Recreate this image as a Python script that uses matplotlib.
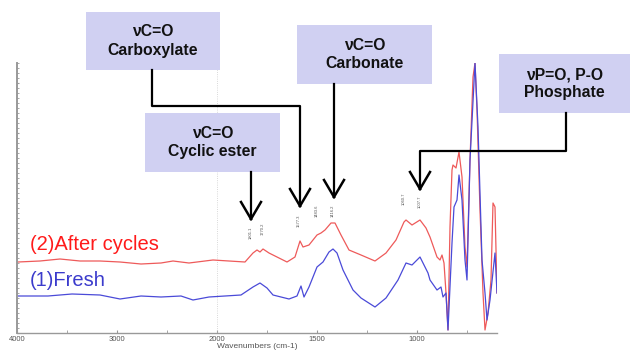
#!/usr/bin/env python3

import numpy as np
import matplotlib
matplotlib.use('Agg')
import matplotlib.pyplot as plt
from matplotlib.patches import Rectangle
from matplotlib.lines import Line2D
from matplotlib.ticker import FixedLocator, MultipleLocator

plt.rcParams['font.family'] = ['Liberation Sans', 'DejaVu Sans']

W, H = 630, 351

# spectra (wavenumber cm-1, arbitrary absorbance)
red_wn = [3990, 3770, 3570, 3370, 3170, 2970, 2760, 2560, 2440, 2280, 2040, 1940,
          1860, 1820, 1800, 1785, 1770, 1740, 1700, 1650, 1610, 1585, 1570, 1540,
          1500, 1480, 1460, 1430, 1410, 1380, 1340, 1280, 1210, 1155, 1105, 1065,
          1055, 1025, 985, 955, 935, 900, 885, 875, 865, 855, 845, 835, 825, 820,
          805, 790, 775, 760, 750, 735, 720, 710, 700, 685, 670, 660, 645, 630,
          620, 610, 600]
red_ab = [.71, .72, .74, .72, .72, .71, .69, .70, .72, .70, .73, .72,
          .71, .80, .83, .81, .84, .80, .76, .71, .76, .92, .86, .88,
          .98, 1.00, 1.03, 1.10, 1.10, .98, .83, .78, .72, .80, .93, 1.11,
          1.13, 1.08, 1.13, 1.05, .96, .76, .73, .78, .70, .40, .03, 1.06, 1.63, 1.68,
          1.65, 1.81, 1.56, .86, .66, 1.73, 2.56, 2.70, 2.23, 1.23, .40, .03, .20, .53,
          1.30, 1.26, .40]

blue_wn = [3990, 3690, 3450, 3170, 2970, 2760, 2560, 2360, 2240, 2080, 1960, 1880,
           1820, 1785, 1750, 1720, 1680, 1640, 1600, 1580, 1565, 1540, 1500, 1470,
           1440, 1420, 1400, 1370, 1320, 1280, 1210, 1155, 1095, 1055, 1025, 985,
           945, 935, 900, 880, 870, 855, 845, 825, 815, 800, 790, 775, 760, 750,
           735, 710, 695, 675, 660, 650, 635, 610, 600]
blue_ab = [.37, .37, .39, .38, .34, .37, .36, .37, .33, .36, .37, .38,
           .46, .50, .45, .38, .36, .34, .37, .47, .36, .46, .66, .71,
           .81, .84, .80, .63, .43, .35, .26, .35, .53, .70, .68, .76,
           .60, .53, .43, .46, .36, .40, .03, .90, 1.26, 1.33, 1.58, 1.33, .73, .53,
           1.73, 2.70, 2.06, .73, .40, .13, .33, .80, .40]

x_ticks = [4000, 3000, 2000, 1500, 1000]

# peak picks: label, pixel x, pixel y of label top
peak_labels = ['1801.1', '1770.2', '1577.3', '1483.6', '1416.2', '1060.7', '1007.7']
peak_px = [251, 263, 299, 317, 333, 404, 420]
peak_top = [227, 223, 215, 205, 205, 193, 196]

boxes = [
    ('\u03bdC=O\nCarboxylate', 86, 12, 134, 58),
    ('\u03bdC=O\nCarbonate', 297, 25, 135, 59),
    ('\u03bdP=O, P-O\nPhosphate', 499, 54, 131, 59),
    ('\u03bdC=O\nCyclic ester', 145, 113, 135, 59),
]
# connector paths in pixels, last point is the arrow tip
paths = [
    [(152, 70), (152, 106), (300, 106), (300, 206)],
    [(334, 84), (334, 197)],
    [(566, 113), (566, 151), (420, 151), (420, 189)],
    [(251, 172), (251, 219)],
]


def px(x, y):
    return x / W, 1 - y / H


def fwd(x):
    x = np.asarray(x, dtype=float)
    return np.where(x >= 2000, x / 2 + 1000, x)


def inv(y):
    y = np.asarray(y, dtype=float)
    return np.where(y >= 2000, (y - 1000) * 2, y)


fig = plt.figure(figsize=(W / 100, H / 100), dpi=100)
ax = fig.add_axes([17 / W, 18 / H, (497 - 17) / W, (333 - 63) / H])
ax.set_xscale('function', functions=(fwd, inv))
ax.set_xlim(4000, 600)
ax.set_ylim(0, 2.70)

ax.axvline(2000, color='#cccccc', lw=0.6, ls=':')
ax.plot(red_wn, red_ab, color='#ee5a5a', lw=0.9)
ax.plot(blue_wn, blue_ab, color='#4a4ad8', lw=0.9)

for s in ['top', 'right']:
    ax.spines[s].set_visible(False)
for s in ['left', 'bottom']:
    ax.spines[s].set_color('#999999')
ax.spines['left'].set_linewidth(1.4)
ax.spines['bottom'].set_linewidth(1.0)

ax.xaxis.set_major_locator(FixedLocator(x_ticks))
ax.set_xticklabels([str(t) for t in x_ticks])
ax.xaxis.set_minor_locator(FixedLocator([3500, 2500, 1750, 1250, 750]))
ax.tick_params(axis='x', which='both', direction='in', length=2, color='#999999',
               labelsize=5.5, labelcolor='#555555', pad=2)
ax.yaxis.set_major_locator(MultipleLocator(0.5))
ax.yaxis.set_minor_locator(MultipleLocator(0.05))
ax.tick_params(axis='y', which='both', direction='in', length=1.5, color='#999999',
               labelleft=False)
ax.set_xlabel('Wavenumbers (cm-1)', fontsize=6, color='#555555', labelpad=0)

fig.text(*px(30, 244), '(2)After cycles', color='#ff1a1a', fontsize=14.5, va='center')
fig.text(*px(30, 280), '(1)Fresh', color='#3b3bcc', fontsize=14.5, va='center')

for lab, x, y in zip(peak_labels, peak_px, peak_top):
    fig.text(*px(x, y), lab, rotation=90, fontsize=3, color='#555555',
             ha='center', va='top')

for txt, x, y, w, h in boxes:
    fig.add_artist(Rectangle(px(x, y + h), w / W, h / H, transform=fig.transFigure,
                             facecolor='#d0d0f2', edgecolor='none'))
    fig.text(*px(x + w / 2, y + h / 2), txt, ha='center', va='center',
             fontsize=11.3, fontweight='bold', color='#111111', linespacing=1.25)

for path in paths:
    xs = [p[0] / W for p in path]
    ys = [1 - p[1] / H for p in path]
    fig.add_artist(Line2D(xs, ys, transform=fig.transFigure, color='black', lw=1.6))
    tx, ty = path[-1]
    for dx in (-10, 10):
        fig.add_artist(Line2D([(tx + dx) / W, tx / W], [1 - (ty - 17) / H, 1 - ty / H],
                              transform=fig.transFigure, color='black', lw=1.8))

fig.savefig('out.png', dpi=100)
